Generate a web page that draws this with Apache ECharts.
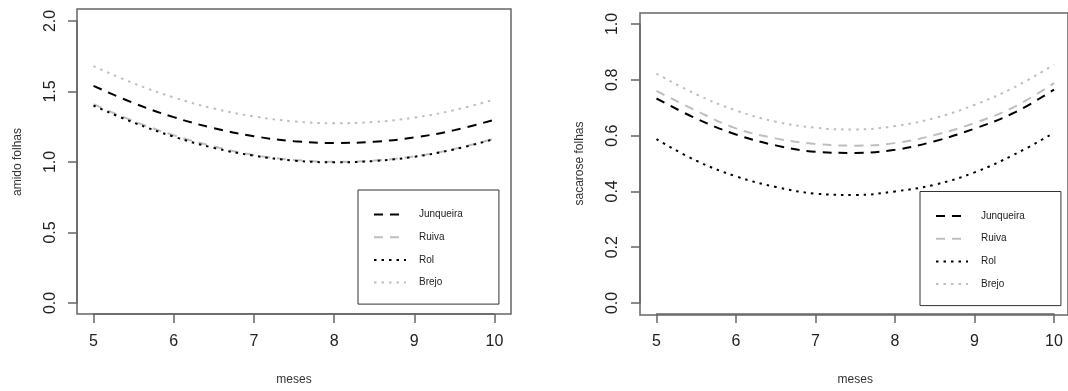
<!DOCTYPE html>
<html>
<head>
<meta charset="utf-8">
<script src="https://cdn.jsdelivr.net/npm/echarts@6/dist/echarts.min.js"></script>
<style>
html,body{margin:0;padding:0;background:#fff;}
#chart{width:1068px;height:391px;}
</style>
</head>
<body>
<div id="chart"></div>
<script>
// ---- data ----
const meses = [5, 5.5, 6, 6.5, 7, 7.5, 8, 8.5, 9, 9.5, 10];
const variedades = ['Junqueira', 'Ruiva', 'Rol', 'Brejo'];

const amidoJunqueira = [1.54, 1.418, 1.318, 1.240, 1.183, 1.148, 1.135, 1.144, 1.174, 1.226, 1.300];
const amidoRuiva     = [1.41, 1.290, 1.190, 1.110, 1.050, 1.015, 1.002, 1.010, 1.040, 1.093, 1.166];
const amidoRol       = [1.40, 1.280, 1.180, 1.100, 1.045, 1.010, 0.998, 1.007, 1.037, 1.090, 1.163];
const amidoBrejo     = [1.68, 1.558, 1.458, 1.379, 1.323, 1.288, 1.275, 1.284, 1.315, 1.368, 1.443];

const sacaroseJunqueira = [0.733, 0.661, 0.604, 0.565, 0.542, 0.538, 0.549, 0.580, 0.625, 0.682, 0.765];
const sacaroseRuiva     = [0.760, 0.689, 0.626, 0.590, 0.570, 0.564, 0.573, 0.602, 0.645, 0.703, 0.788];
const sacaroseRol       = [0.587, 0.510, 0.454, 0.416, 0.392, 0.387, 0.400, 0.424, 0.468, 0.532, 0.610];
const sacaroseBrejo     = [0.822, 0.748, 0.690, 0.650, 0.628, 0.622, 0.634, 0.663, 0.710, 0.773, 0.854];

const xTicks = [5, 6, 7, 8, 9, 10];
const amidoTicks = [0.0, 0.5, 1.0, 1.5, 2.0];
const sacaroseTicks = [0.0, 0.2, 0.4, 0.6, 0.8, 1.0];

// ---- styles ----
const FONT = "'Liberation Sans', Arial, sans-serif";
const GRAY = '#bebebe';
const AXIS = '#666';
const styles = {
  Junqueira: {color: '#000000', type: [9, 7]},
  Ruiva:     {color: GRAY,      type: [9, 7]},
  Rol:       {color: '#000000', type: [2.5, 5]},
  Brejo:     {color: GRAY,      type: [2.5, 5]}
};

function pairs(ys) { return meses.map((m, i) => [m, ys[i]]); }

function lineSeries(name, ys, idx) {
  const s = styles[name];
  return {
    type: 'line', name: name, xAxisIndex: idx, yAxisIndex: idx,
    data: pairs(ys), smooth: 0.4, symbol: 'none', showSymbol: false,
    lineStyle: {color: s.color, width: 2, type: s.type},
    itemStyle: {color: s.color},
    emphasis: {disabled: true}
  };
}

function xAxisDef(idx, offset) {
  return {
    type: 'value', gridIndex: idx, min: xTicks[0], max: xTicks[xTicks.length - 1], interval: 1,
    offset: offset,
    name: 'meses', nameLocation: 'middle', nameGap: 60,
    nameTextStyle: {fontFamily: FONT, fontSize: 12, color: '#333'},
    axisLine: {show: true, onZero: false, lineStyle: {color: AXIS, width: 1.5}},
    axisTick: {show: true, length: 9, lineStyle: {color: AXIS, width: 1.5}},
    axisLabel: {show: true, margin: 19.5, fontFamily: FONT, fontSize: 16, color: '#222'},
    splitLine: {show: false}
  };
}

function yAxisDef(idx, ticks, title, gap, margin, offset) {
  return {
    type: 'value', gridIndex: idx, min: ticks[0], max: ticks[ticks.length - 1],
    interval: ticks[1] - ticks[0],
    offset: offset,
    name: title, nameLocation: 'middle', nameGap: gap, nameRotate: 90,
    nameTextStyle: {fontFamily: FONT, fontSize: 12, color: '#333'},
    axisLine: {show: true, onZero: false, lineStyle: {color: AXIS, width: 1.5}},
    axisTick: {show: true, length: 9, lineStyle: {color: AXIS, width: 1.5}},
    axisLabel: {show: true, rotate: 90, margin: margin, fontFamily: FONT, fontSize: 16, color: '#222',
                formatter: v => v.toFixed(1)},
    splitLine: {show: false}
  };
}

function hiddenAxis(idx) { return {type: 'value', gridIndex: idx, show: false, min: 0, max: 1}; }

function legendDef(left, top) {
  return {
    data: variedades, orient: 'vertical', left: left, top: top,
    padding: [18.5, 36, 15.5, 15], itemGap: 10.7, itemWidth: 32, itemHeight: 12,
    borderColor: '#333', borderWidth: 1, backgroundColor: '#fff',
    selectedMode: false,
    itemStyle: {opacity: 0},
    textStyle: {fontFamily: FONT, fontSize: 10, color: '#222', lineHeight: 12, padding: [0, 0, 0, 8]}
  };
}

const chart = echarts.init(document.getElementById('chart'), null, {renderer: 'canvas'});
chart.setOption({
  animation: false,
  backgroundColor: '#ffffff',
  grid: [
    {left: 93.5, top: 21, width: 401, height: 282},
    {left: 656.5, top: 24, width: 397.5, height: 280},
    {left: 77, top: 9, width: 434, height: 305, show: true, borderColor: AXIS, borderWidth: 1.5, backgroundColor: 'transparent'},
    {left: 640, top: 13, width: 432, height: 302, show: true, borderColor: AXIS, borderWidth: 1.5, backgroundColor: 'transparent'}
  ],
  xAxis: [xAxisDef(0, 11), xAxisDef(1, 11), hiddenAxis(2), hiddenAxis(3)],
  yAxis: [
    yAxisDef(0, amidoTicks, 'amido folhas', 53, 18, 16.5),
    yAxisDef(1, sacaroseTicks, 'sacarose folhas', 54, 19.5, 16.5),
    hiddenAxis(2), hiddenAxis(3)
  ],
  legend: [legendDef(358, 190), legendDef(920, 191.5)],
  series: [
    lineSeries('Junqueira', amidoJunqueira, 0),
    lineSeries('Ruiva', amidoRuiva, 0),
    lineSeries('Rol', amidoRol, 0),
    lineSeries('Brejo', amidoBrejo, 0),
    lineSeries('Junqueira', sacaroseJunqueira, 1),
    lineSeries('Ruiva', sacaroseRuiva, 1),
    lineSeries('Rol', sacaroseRol, 1),
    lineSeries('Brejo', sacaroseBrejo, 1)
  ]
});
</script>
</body>
</html>
